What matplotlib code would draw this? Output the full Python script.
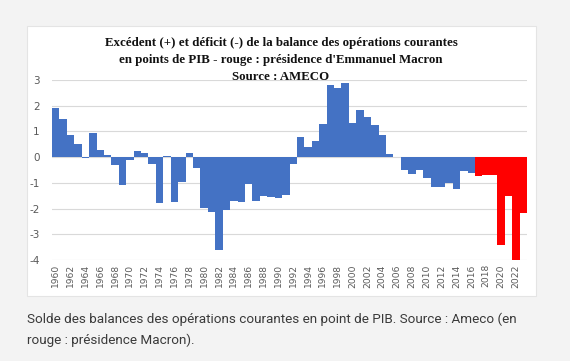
import matplotlib.pyplot as plt
import numpy as np
from matplotlib.patches import Rectangle

# current account balance, % of GDP
years = np.arange(1960, 2024)
balance = [1.9, 1.5, 0.87, 0.5, -0.03, 0.93, 0.29, 0.1, -0.3, -1.08,
           -0.1, 0.25, 0.16, -0.27, -1.8, 0.05, -1.73, -0.95, 0.16, -0.42,
           -1.99, -2.12, -3.6, -2.05, -1.69, -1.76, -1.04, -1.72, -1.5, -1.54,
           -1.6, -1.46, -0.27, 0.77, 0.41, 0.62, 1.29, 2.82, 2.69, 2.89,
           1.34, 1.82, 1.55, 1.25, 0.86, 0.12, 0.0, -0.5, -0.65, -0.5,
           -0.81, -1.17, -1.17, -1.0, -1.24, -0.53, -0.63, -0.72, -0.7, -0.7,
           -3.4, -1.52, -4.03, -2.17]
macron_start = 2017
yticks = [3, 2, 1, 0, -1, -2, -3, -4]
xticks = years[::2]

title = ("Excédent (+) et déficit (-) de la balance des opérations courantes\n"
         "en points de PIB - rouge : présidence d'Emmanuel Macron\n"
         "Source : AMECO")
caption = ("Solde des balances des opérations courantes en point de PIB. Source : Ameco (en\n"
           "rouge : présidence Macron).")

W, H = 570, 361
fig = plt.figure(figsize=(W / 100, H / 100), dpi=100)
fig.patch.set_facecolor('#f3f3f3')

# white card behind the chart
card = Rectangle((27 / W, 1 - 296 / H), (536 - 27) / W, (296 - 26) / H,
                 transform=fig.transFigure, facecolor='white',
                 edgecolor='#e4e4e4', lw=0.8, zorder=-5)
fig.patches.append(card)

ax = fig.add_axes([52 / W, 1 - 260 / H, (527 - 52) / W, (260 - 80) / H])
ax.set_facecolor('none')
ax.set_zorder(2)

colors = ['#ff0000' if y >= macron_start else '#4472c4' for y in years]
ax.bar(years, balance, width=1.0, color=colors, zorder=2)

ax.set_xlim(years[0] - 0.5, years[-1] + 0.5)
ax.set_ylim(-4, 3)
ax.set_yticks(yticks)
ax.set_yticklabels([str(v) for v in yticks])
ax.set_xticks(xticks)
ax.set_xticklabels([str(v) for v in xticks], rotation=90)
ax.tick_params(axis='both', length=0, colors='#595959')
ax.tick_params(axis='x', labelsize=6.6, pad=3)
ax.tick_params(axis='y', labelsize=7.5, pad=9)
ax.grid(axis='y', color='#d9d9d9', lw=0.8, zorder=0)
ax.set_axisbelow(True)
for s in ax.spines.values():
    s.set_visible(False)

fig.text(281 / W, 1 - 37 / H, title, ha='center', va='top',
         family='Liberation Serif', weight='bold', fontsize=9.3,
         linespacing=1.55, color='#111111', zorder=3)

fig.text(27 / W, 1 - 313 / H, caption, ha='left', va='top',
         family='Roboto', fontsize=9.7, linespacing=1.7, color='#3a3a3a')

fig.savefig('out.png', dpi=100, facecolor=fig.get_facecolor())
